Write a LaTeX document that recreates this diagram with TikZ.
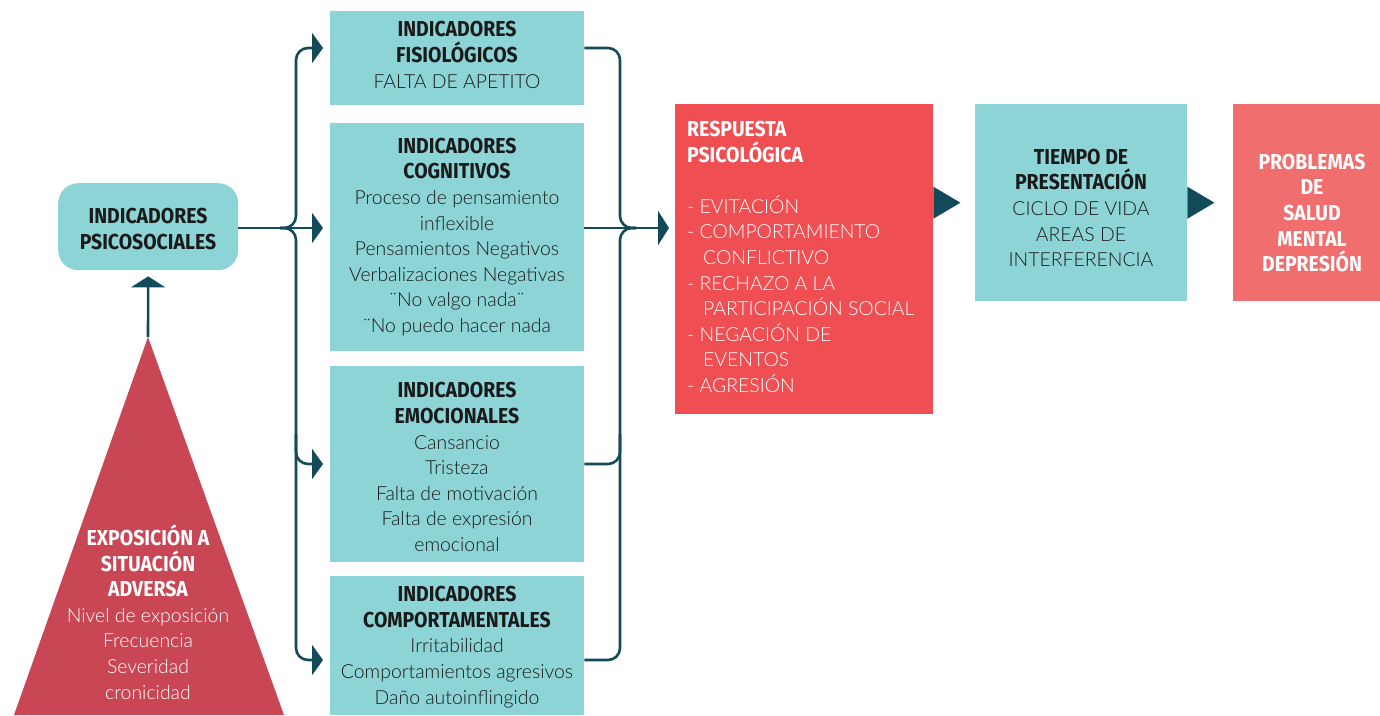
\documentclass[tikz,border=0pt]{standalone}
\usepackage{fontspec}
\usetikzlibrary{arrows.meta,calc}
\newfontfamily\headfont[FakeStretch=0.9]{Fira Sans}
\newfontfamily\bodyfont{Lato Light}
\definecolor{boxteal}{HTML}{8DD4D6}
\definecolor{darkc}{HTML}{134A5A}
\definecolor{redc}{HTML}{EF4F53}
\definecolor{trired}{HTML}{C94655}
\definecolor{pinkc}{HTML}{F06E6E}
\definecolor{txtc}{HTML}{1A1A1A}
\newcommand\hdl[1]{{\fontsize{21.6}{25.6}\headfont\bfseries #1}}
\newcommand\bdl[1]{{\fontsize{19.4}{25.6}\bodyfont #1}}
\tikzset{
  tbox/.style={fill=boxteal, draw=none, inner sep=0pt, anchor=north west},
  txtn/.style={align=center, inner sep=0pt, font=\fontsize{19}{25.6}\selectfont, text=txtc},
  conn/.style={draw=darkc, line width=2.6pt, rounded corners=12pt},
  tipl/.style={-{Triangle[length=11pt,width=30pt]}},
  tipb/.style={-{Triangle[length=11pt,width=34pt]}}
}
\begin{document}
\begin{tikzpicture}[x=1pt,y=-1pt]
\useasboundingbox (0,0) rectangle (1380,715);
% boxes
\node[tbox, rounded corners=20pt, minimum width=180pt, minimum height=87pt] (psico) at (58,183) {};
\node[tbox, minimum width=254pt, minimum height=94pt] (fis) at (330,11) {};
\node[tbox, minimum width=254pt, minimum height=228pt] (cog) at (330,123) {};
\node[tbox, minimum width=254pt, minimum height=196pt] (emo) at (330,366) {};
\node[tbox, minimum width=254pt, minimum height=139pt] (comp) at (330,576) {};
\node[tbox, fill=redc, minimum width=258pt, minimum height=310pt] (resp) at (675,104) {};
\node[tbox, minimum width=212pt, minimum height=197pt] (tiempo) at (975,104) {};
\node[tbox, fill=pinkc, minimum width=147pt, minimum height=197pt] (prob) at (1233,104) {};
% triangle
\fill[trired] (14,715) -- (148,337) -- (284,715) -- cycle;
\coordinate (apex) at (148,337);
% texts
\node[txtn] (psicot) at (148,229) {\hdl{INDICADORES}\\\hdl{PSICOSOCIALES}};
\node[txtn] (fist) at (457,55) {\hdl{INDICADORES}\\\hdl{FISIOLÓGICOS}\\\bdl{FALTA DE APETITO}};
\node[txtn] (cogt) at (457,237) {\hdl{INDICADORES}\\\hdl{COGNITIVOS}\\\bdl{Proceso de pensamiento}\\\bdl{inflexible}\\\bdl{Pensamientos Negativos}\\\bdl{Verbalizaciones Negativas}\\\bdl{¨No valgo nada¨}\\\bdl{¨No puedo hacer nada}};
\node[txtn] (emot) at (457,467) {\hdl{INDICADORES}\\\hdl{EMOCIONALES}\\\bdl{Cansancio}\\\bdl{Tristeza}\\\bdl{Falta de motivación}\\\bdl{Falta de expresión}\\\bdl{emocional}};
\node[txtn] (compt) at (457,647) {\hdl{INDICADORES}\\\hdl{COMPORTAMENTALES}\\\bdl{Irritabilidad}\\\bdl{Comportamientos agresivos}\\\bdl{Daño autoinflingido}};
\node[txtn, text=white, align=left, anchor=north west] (respt) at (687,121) {\hdl{RESPUESTA}\\\hdl{PSICOLÓGICA}\\[25.6pt]\bdl{- EVITACIÓN}\\\bdl{- COMPORTAMIENTO}\\\bdl{\hspace*{16pt}CONFLICTIVO}\\\bdl{- RECHAZO A LA}\\\bdl{\hspace*{16pt}PARTICIPACIÓN SOCIAL}\\\bdl{- NEGACIÓN DE}\\\bdl{\hspace*{16pt}EVENTOS}\\\bdl{- AGRESIÓN}};
\node[txtn] (tiempot) at (1081,208) {\hdl{TIEMPO DE}\\\hdl{PRESENTACIÓN}\\\bdl{CICLO DE VIDA}\\\bdl{AREAS DE}\\\bdl{INTERFERENCIA}};
\node[txtn, text=white] (probt) at (1312,213) {\hdl{PROBLEMAS}\\\hdl{DE}\\\hdl{SALUD}\\\hdl{MENTAL}\\\hdl{DEPRESIÓN}};
\node[txtn, text=white] (trit) at (148,612) {\hdl{EXPOSICIÓN A}\\\hdl{SITUACIÓN}\\\hdl{ADVERSA}\\\bdl{Nivel de exposición}\\\bdl{Frecuencia}\\\bdl{Severidad}\\\bdl{cronicidad}};
% connector coordinates
\coordinate (lsplit) at (280,228);
\coordinate (lx) at (296,0);
\coordinate (rsplit) at (636,228);
\coordinate (rx) at (620,0);
\coordinate (yf) at (0,48);
\coordinate (yc) at (0,228);
\coordinate (ye) at (0,464);
\coordinate (yp) at (0,660);
% up arrow
\draw[conn, tipb] (apex) -- ($(psico.south)+(0,6)$);
% left bracket
\draw[conn, tipl, shorten >=7pt] (psico.east |- yc) -- (cog.west |- yc);
\draw[conn, tipl, shorten >=7pt] (lsplit) -- (lx |- yc) -- (lx |- yf) -- (fis.west |- yf);
\draw[conn, tipl, shorten >=7pt] (lsplit) -- (lx |- yc) -- (lx |- yp) -- (comp.west |- yp);
\draw[conn, tipl, shorten >=7pt] ($(lx |- ye)+(0,-30)$) -- (lx |- ye) -- (emo.west |- ye);
% right bracket
\draw[conn] (fis.east |- yf) -- (rx |- yf) -- (rx |- yc) -- (rsplit);
\draw[conn] (comp.east |- yp) -- (rx |- yp) -- (rx |- yc) -- (rsplit);
\draw[conn] (emo.east |- ye) -- (rx |- ye) -- ($(rx |- ye)+(0,-30)$);
\draw[conn, tipb, shorten >=6pt] (cog.east |- yc) -- (resp.west |- yc);
% shaftless arrows
\fill[darkc] ($(resp.east |- tiempo.west)+(0,-16)$) -- ($(resp.east |- tiempo.west)+(27,0)$) -- ($(resp.east |- tiempo.west)+(0,16)$) -- cycle;
\fill[darkc] ($(tiempo.east)+(0,-16)$) -- ($(tiempo.east)+(27,0)$) -- ($(tiempo.east)+(0,16)$) -- cycle;
\end{tikzpicture}
\end{document}
